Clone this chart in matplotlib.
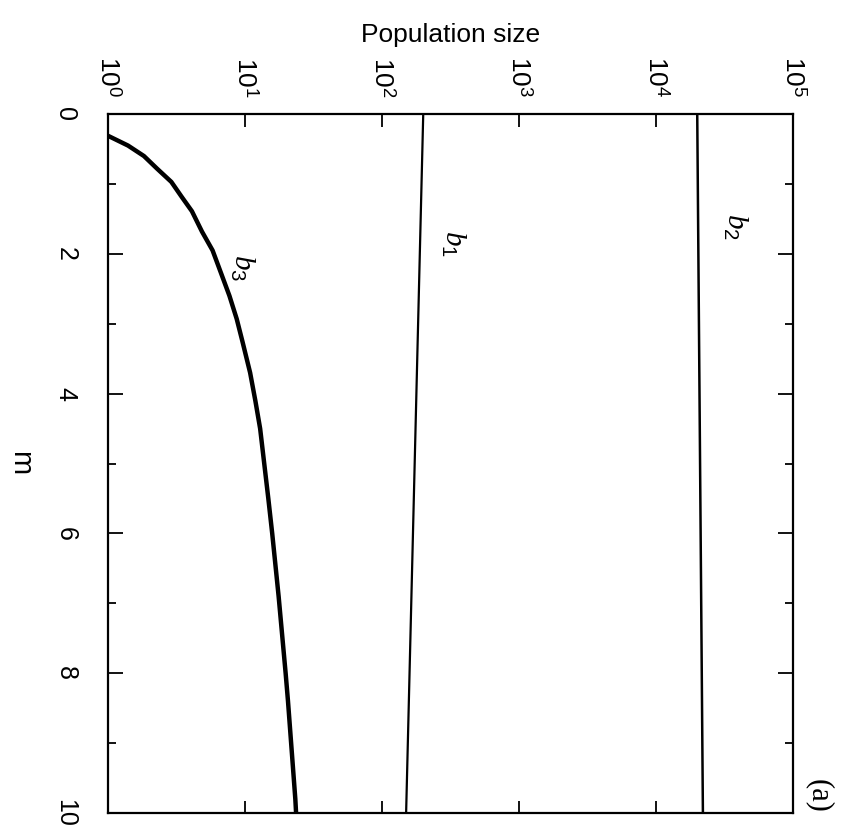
import numpy as np
import matplotlib.pyplot as plt
from matplotlib.ticker import FixedLocator

plt.rcParams['font.family'] = ['Liberation Sans', 'DejaVu Sans']
plt.rcParams['mathtext.fontset'] = 'custom'
plt.rcParams['mathtext.rm'] = 'Liberation Sans'
plt.rcParams['mathtext.it'] = 'Liberation Serif:italic'

# Population size of each class against m
m_b1 = [0, 10]
pop_b1 = [200, 150]

m_b2 = [0, 10]
pop_b2 = [2.0e4, 2.2e4]

m_b3 = [0.31, 0.45, 0.60, 0.78, 0.97, 1.18, 1.39, 1.68, 1.95, 2.28, 2.60,
        2.93, 3.26, 3.70, 4.10, 4.50, 5.50, 6.00, 6.90, 8.00, 8.40, 9.80, 10.0]
pop_b3 = [1.0, 1.4, 1.83, 2.28, 2.9, 3.44, 4.1, 4.85, 5.8, 6.7, 7.7,
          8.7, 9.6, 10.9, 11.9, 12.9, 14.8, 15.8, 17.6, 19.8, 20.6, 23.3, 23.6]

pop_ticks = [1e0, 1e1, 1e2, 1e3, 1e4, 1e5]
pop_ticklabels = ['$10^{0}$', '$10^{1}$', '$10^{2}$', '$10^{3}$', '$10^{4}$', '$10^{5}$']
m_ticks = [0, 2, 4, 6, 8, 10]

fig = plt.figure(figsize=(8.66, 8.36), dpi=100)
ax = fig.add_axes([0.1247, 0.0275, 0.791, 0.836])

# chart is drawn turned a quarter turn: m runs downwards, population to the right
ax.plot(pop_b1, m_b1, color='black', lw=1.6)
ax.plot(pop_b2, m_b2, color='black', lw=1.8)
ax.plot(pop_b3, m_b3, color='black', lw=3.2, solid_joinstyle='round',
        solid_capstyle='butt')

ax.set_xscale('log')
ax.set_xlim(1, 1e5)
ax.set_ylim(10, 0)

ax.xaxis.set_major_locator(FixedLocator(pop_ticks))
ax.xaxis.set_minor_locator(FixedLocator([]))
ax.set_xticks(pop_ticks)
ax.set_xticklabels(pop_ticklabels, rotation=-90)
ax.set_yticks(m_ticks)
ax.set_yticklabels([str(v) for v in m_ticks], rotation=-90, va='center')
ax.set_yticks(np.arange(1, 10, 2), minor=True)

ax.xaxis.tick_top()
ax.xaxis.set_label_position('top')
ax.tick_params(axis='x', which='both', direction='in', top=True, bottom=True,
               length=9, width=1.3, labelsize=19, pad=12)
ax.tick_params(axis='y', which='major', direction='in', left=True, right=True,
               length=11, width=1.3, labelsize=18, pad=22)
ax.tick_params(axis='y', which='minor', direction='in', left=True, right=True,
               length=6, width=1.3)

for s in ax.spines.values():
    s.set_linewidth(1.6)

ax.set_xlabel('Population size', fontsize=19, labelpad=10)
ax.set_ylabel('m', fontsize=21, rotation=-90, labelpad=24, va='center')

ax.text(3.3e2, 1.85, '$b_1$', fontsize=21, rotation=-90, ha='center', va='center')
ax.text(3.8e4, 1.6, '$b_2$', fontsize=21, rotation=-90, ha='center', va='center')
ax.text(9.5, 2.2, '$b_3$', fontsize=21, rotation=-90, ha='center', va='center')

fig.text(0.946, 0.048, '(a)', fontsize=22, family='Liberation Serif',
         rotation=-90, ha='center', va='center')

fig.savefig('out.png', dpi=100)
